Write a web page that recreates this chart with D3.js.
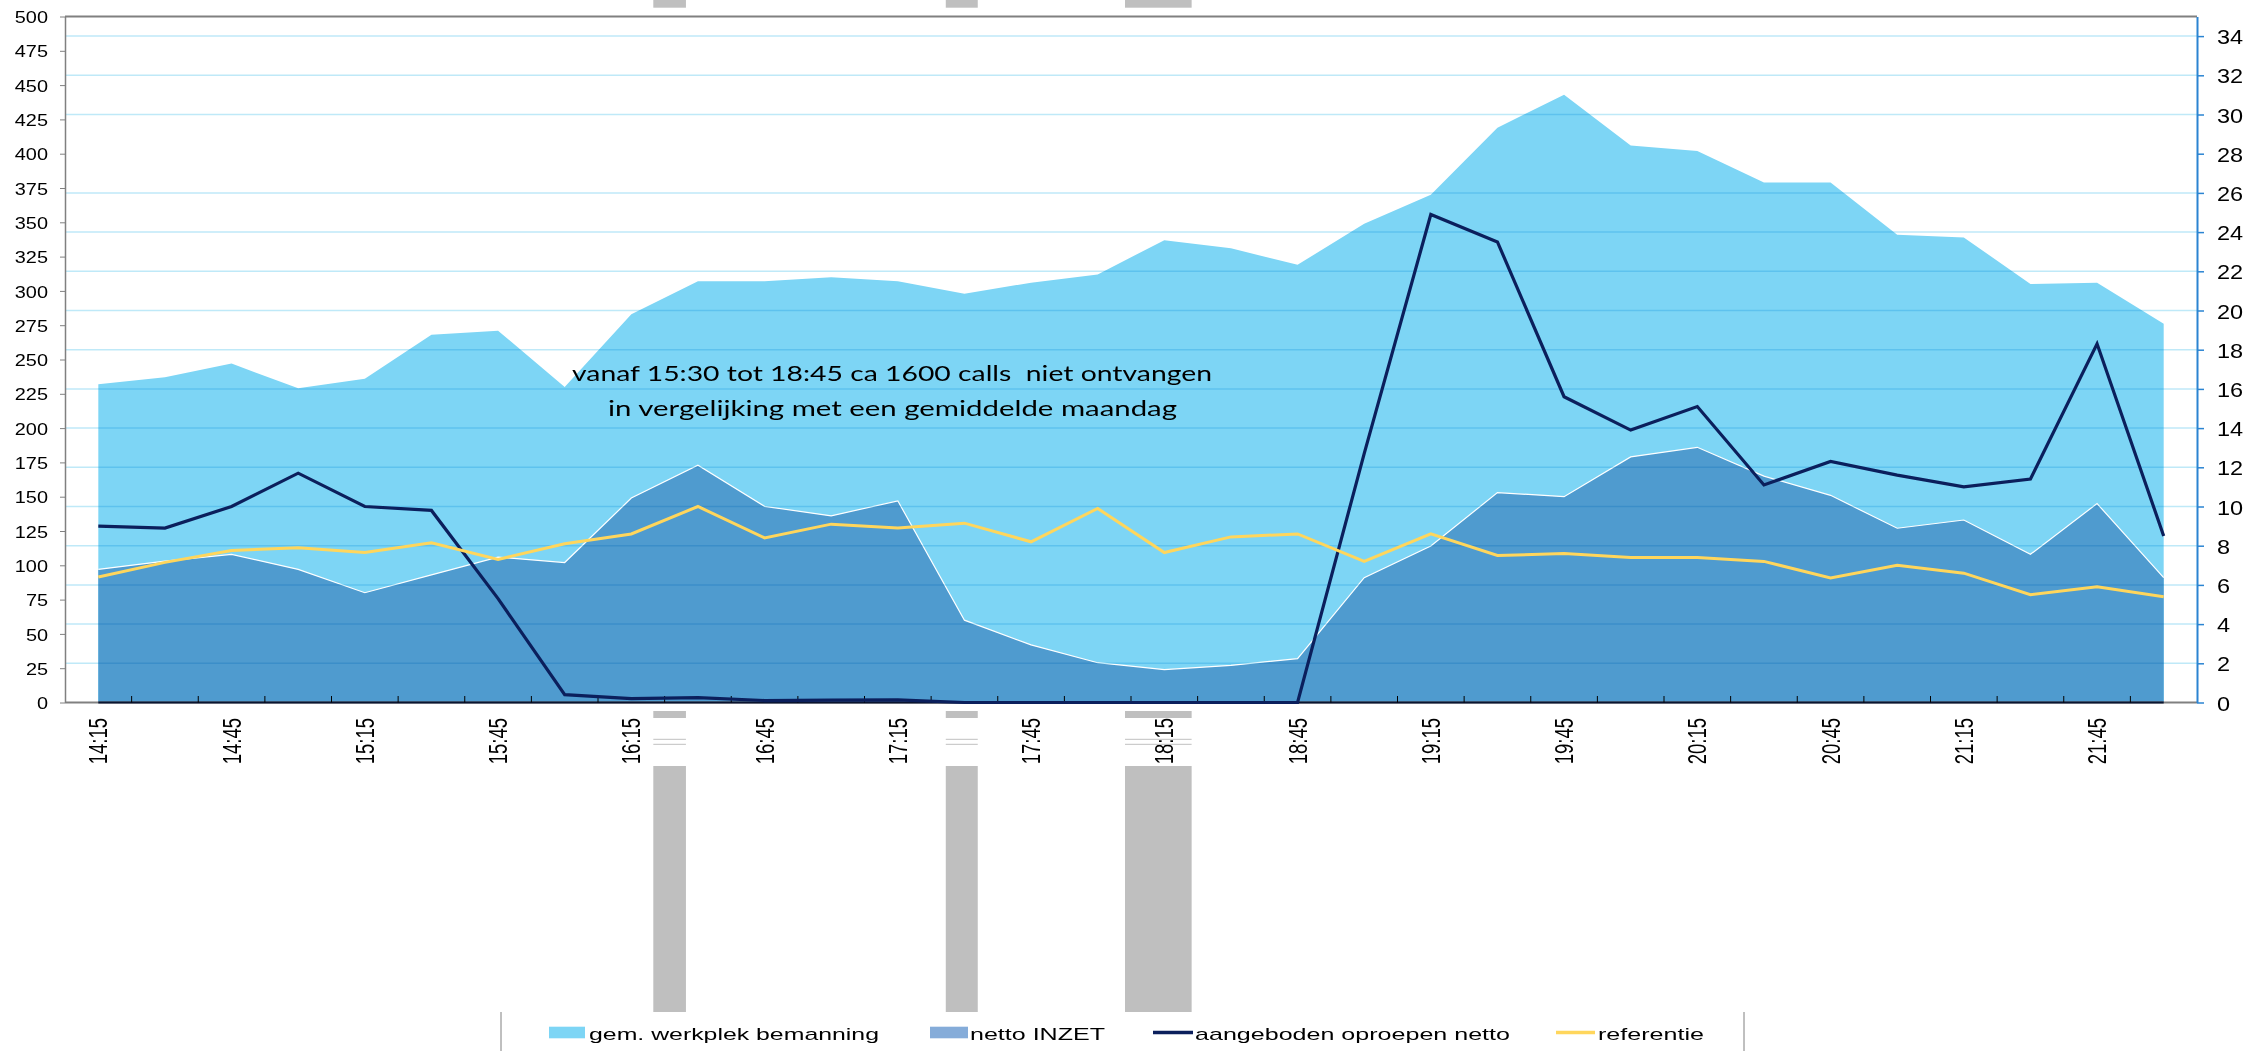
<!DOCTYPE html>
<html>
<head>
<meta charset="utf-8">
<script src="https://d3js.org/d3.v7.min.js"></script>
<style>
  body { margin: 0; background: #fff; }
  svg text { font-family: "Liberation Sans", Arial, sans-serif; fill: #000; }
</style>
</head>
<body>
<div id="my_dataviz"></div>
<script>
// categorieen (kwartieren)
var times = ["14:15","14:30","14:45","15:00","15:15","15:30","15:45","16:00",
             "16:15","16:30","16:45","17:00","17:15","17:30","17:45","18:00",
             "18:15","18:30","18:45","19:00","19:15","19:30","19:45","20:00",
             "20:15","20:30","20:45","21:00","21:15","21:30","21:45","22:00"];

// linker as
var werkplek = [232, 237, 247, 229, 236, 268, 271, 230, 283, 307, 307, 310, 307, 298, 306, 312,
                337, 331, 319, 349, 370, 419, 443, 406, 402, 379, 379, 341, 339, 305, 306, 276];
var inzet    = [97, 103, 108, 97, 80, 93, 106, 102, 149, 173, 143, 136, 147, 60, 42, 29,
                24, 27, 32, 91, 114, 153, 150, 179, 186, 165, 151, 127, 133, 108, 145, 91];

// rechter as
var aangeboden = [9.0, 8.9, 10.0, 11.7, 10.0, 9.8, 5.3, 0.4, 0.2, 0.25, 0.1, 0.12, 0.13, 0, 0, 0,
                  0, 0, 0, 12.7, 24.9, 23.5, 15.6, 13.9, 15.1, 11.1, 12.3, 11.6, 11.0, 11.4, 18.3, 8.5];
var referentie = [6.4, 7.15, 7.75, 7.9, 7.65, 8.15, 7.3, 8.1, 8.6, 10.0, 8.4, 9.1, 8.9, 9.15, 8.2, 9.9,
                  7.65, 8.45, 8.6, 7.2, 8.6, 7.5, 7.6, 7.4, 7.4, 7.2, 6.35, 7.0, 6.6, 5.5, 5.9, 5.4];

var leftTicks = [0,25,50,75,100,125,150,175,200,225,250,275,300,325,350,375,400,425,450,475,500];
var rightTicks = [0,2,4,6,8,10,12,14,16,18,20,22,24,26,28,30,32,34];
var gridValues = [2,4,6,8,10,12,14,16,18,20,22,24,26,30,32,34];
var xLabels = ["14:15","14:45","15:15","15:45","16:15","16:45","17:15","17:45",
               "18:15","18:45","19:15","19:45","20:15","20:45","21:15","21:45"];

var legendNames = ["gem. werkplek bemanning", "netto INZET", "aangeboden oproepen netto", "referentie"];
var noteLines = ["vanaf 15:30 tot 18:45 ca 1600 calls  niet ontvangen",
                 "in vergelijking met een gemiddelde maandag"];

// grijze blokken (in kwartier-eenheden)
var greyMarks = [[8.83, 9.32], [13.22, 13.70], [15.91, 16.91]];

var W = 2246, H = 1051;
var plot = {left: 65, right: 2197, top: 16.5, bottom: 702.5};

var cLight = "#7dd5f5", cDark = "#4f9bcf", cNavy = "#0b1f5c", cYellow = "#ffd65c";

var svg = d3.select("#my_dataviz")
  .append("svg")
    .attr("width", W)
    .attr("height", H);

var x = d3.scaleBand()
  .domain(times)
  .range([plot.left, plot.right])
  .padding(0);
var cx = function(t) { return x(t) + x.bandwidth() / 2; };
var xq = d3.scaleLinear().domain([0, times.length]).range([plot.left, plot.right]);

var yL = d3.scaleLinear().domain([0, 500]).range([plot.bottom, plot.top]);
var yR = d3.scaleLinear().domain([0, 35]).range([plot.bottom, plot.top]);

// vlakken
var areaL = d3.area()
  .x(function(d, i) { return cx(times[i]); })
  .y0(yL(0))
  .y1(function(d) { return yL(d); });

svg.append("path")
  .datum(werkplek)
  .attr("d", areaL)
  .attr("fill", cLight);

svg.append("path")
  .datum(inzet)
  .attr("d", areaL)
  .attr("fill", cDark);

svg.append("path")
  .datum(inzet)
  .attr("d", d3.line().x(function(d, i) { return cx(times[i]); }).y(function(d) { return yL(d); }))
  .attr("fill", "none")
  .attr("stroke", "#fff")
  .attr("stroke-width", 1.2);

// rasterlijnen (rechter as)
svg.append("g")
  .selectAll("line")
  .data(gridValues)
  .enter()
  .append("line")
    .attr("x1", plot.left)
    .attr("x2", plot.right)
    .attr("y1", function(d) { return yR(d); })
    .attr("y2", function(d) { return yR(d); })
    .attr("stroke", "#bfe9f8")
    .attr("stroke-width", 1.5)
    .style("mix-blend-mode", "multiply");

// assen
svg.append("line")
  .attr("x1", plot.left).attr("x2", plot.right)
  .attr("y1", plot.top).attr("y2", plot.top)
  .attr("stroke", "#808080").attr("stroke-width", 2);

svg.append("line")
  .attr("x1", plot.left).attr("x2", plot.right)
  .attr("y1", plot.bottom).attr("y2", plot.bottom)
  .attr("stroke", "#808080").attr("stroke-width", 2);

svg.append("line")
  .attr("x1", cx(times[0])).attr("x2", cx(times[times.length - 1]))
  .attr("y1", yR(0)).attr("y2", yR(0))
  .attr("stroke", "#0a1430").attr("stroke-width", 2.2);

var gL = svg.append("g")
  .attr("transform", "translate(" + plot.left + ",0)")
  .call(d3.axisLeft(yL).tickValues(leftTicks).tickSize(5).tickSizeOuter(0).tickPadding(12));
gL.select(".domain").attr("stroke", "#808080").attr("stroke-width", 1.5);
gL.selectAll(".tick line").attr("stroke", "#808080");
gL.selectAll(".tick text")
  .attr("x", 0)
  .attr("dy", "0.36em")
  .attr("transform", "translate(-17,0) scale(1.17,1)")
  .style("font-size", "17px")
  .style("font-family", "'Liberation Sans', Arial, sans-serif");

var gR = svg.append("g")
  .attr("transform", "translate(" + plot.right + ",0)")
  .call(d3.axisRight(yR).tickValues(rightTicks).tickSize(7).tickSizeOuter(0).tickPadding(13));
gR.select(".domain").attr("stroke", "#2b84d2").attr("stroke-width", 2);
gR.selectAll(".tick line").attr("stroke", "#2b84d2").attr("stroke-width", 1.5);
gR.selectAll(".tick text")
  .attr("x", 0)
  .attr("dy", "0.36em")
  .attr("transform", "translate(20,0) scale(1.12,1)")
  .style("font-size", "21px")
  .style("font-family", "'Liberation Sans', Arial, sans-serif");

// streepjes op de x-as (tussen de kwartieren)
svg.append("g")
  .selectAll("line")
  .data(times.slice(1))
  .enter()
  .append("line")
    .attr("x1", function(d) { return x(d); })
    .attr("x2", function(d) { return x(d); })
    .attr("y1", plot.bottom)
    .attr("y2", plot.bottom - 6.5)
    .attr("stroke", "#000")
    .attr("stroke-width", 1);

// lijnen
var lineR = d3.line()
  .x(function(d, i) { return cx(times[i]); })
  .y(function(d) { return yR(d); });

svg.append("path")
  .datum(aangeboden)
  .attr("d", lineR)
  .attr("fill", "none")
  .attr("stroke", cNavy)
  .attr("stroke-width", 3.2)
  .attr("stroke-linejoin", "miter");

svg.append("path")
  .datum(referentie)
  .attr("d", lineR)
  .attr("fill", "none")
  .attr("stroke", cYellow)
  .attr("stroke-width", 3);

// x labels
svg.append("g")
  .selectAll("text")
  .data(xLabels)
  .enter()
  .append("text")
    .attr("transform", function(d) { return "translate(" + cx(d) + ",718) scale(1.35,1) rotate(-90)"; })
    .attr("text-anchor", "end")
    .attr("dy", "0.36em")
    .style("font-size", "18.5px")
    .text(function(d) { return d; });

// grijze blokken boven en onder
var gGrey = svg.append("g");
greyMarks.forEach(function(m) {
  var x0 = xq(m[0]), w = xq(m[1]) - xq(m[0]);
  gGrey.append("rect").attr("x", x0).attr("y", 0).attr("width", w).attr("height", 7.7).attr("fill", "#bfbfbf");
  gGrey.append("rect").attr("x", x0).attr("y", 711).attr("width", w).attr("height", 7).attr("fill", "#bfbfbf");
  gGrey.append("rect").attr("x", x0).attr("y", 766).attr("width", w).attr("height", 246).attr("fill", "#bfbfbf");
  [739.3, 744.3].forEach(function(yy) {
    gGrey.append("line").attr("x1", x0).attr("x2", x0 + w).attr("y1", yy).attr("y2", yy)
      .attr("stroke", "#c0c0c0").attr("stroke-width", 1);
  });
});

// tekstvak
var note = svg.append("g").style("font-family", "Lato, 'Open Sans', sans-serif");
note.append("text")
  .attr("x", 572).attr("y", 381)
  .attr("textLength", 640).attr("lengthAdjust", "spacingAndGlyphs")
  .style("font-size", "22px").style("white-space", "pre")
  .style("font-family", "Lato, 'Open Sans', sans-serif")
  .text(noteLines[0]);
note.append("text")
  .attr("x", 608).attr("y", 416)
  .attr("textLength", 569).attr("lengthAdjust", "spacingAndGlyphs")
  .style("font-size", "22px")
  .style("font-family", "Lato, 'Open Sans', sans-serif")
  .text(noteLines[1]);

// legenda
var leg = svg.append("g");
[501, 1744].forEach(function(xx) {
  leg.append("line").attr("x1", xx).attr("x2", xx).attr("y1", 1012).attr("y2", H)
    .attr("stroke", "#808080").attr("stroke-width", 1);
});
var legItems = [
  {name: legendNames[0], type: "rect", color: cLight, sx: 549, sw: 36, tx: 589, tl: 290},
  {name: legendNames[1], type: "rect", color: "#85acd9", sx: 930, sw: 38, tx: 970, tl: 135},
  {name: legendNames[2], type: "line", color: cNavy, sx: 1153, sw: 40, tx: 1195, tl: 315},
  {name: legendNames[3], type: "line", color: cYellow, sx: 1556, sw: 39, tx: 1598, tl: 106}
];
legItems.forEach(function(d) {
  if (d.type === "rect") {
    leg.append("rect").attr("x", d.sx).attr("y", 1026.7).attr("width", d.sw).attr("height", 11.6).attr("fill", d.color);
  } else {
    leg.append("line").attr("x1", d.sx).attr("x2", d.sx + d.sw).attr("y1", 1032.5).attr("y2", 1032.5)
      .attr("stroke", d.color).attr("stroke-width", 3.5);
  }
  leg.append("text")
    .attr("x", d.tx).attr("y", 1039.5)
    .attr("textLength", d.tl).attr("lengthAdjust", "spacingAndGlyphs")
    .style("font-size", "17px")
    .text(d.name);
});
</script>
</body>
</html>
